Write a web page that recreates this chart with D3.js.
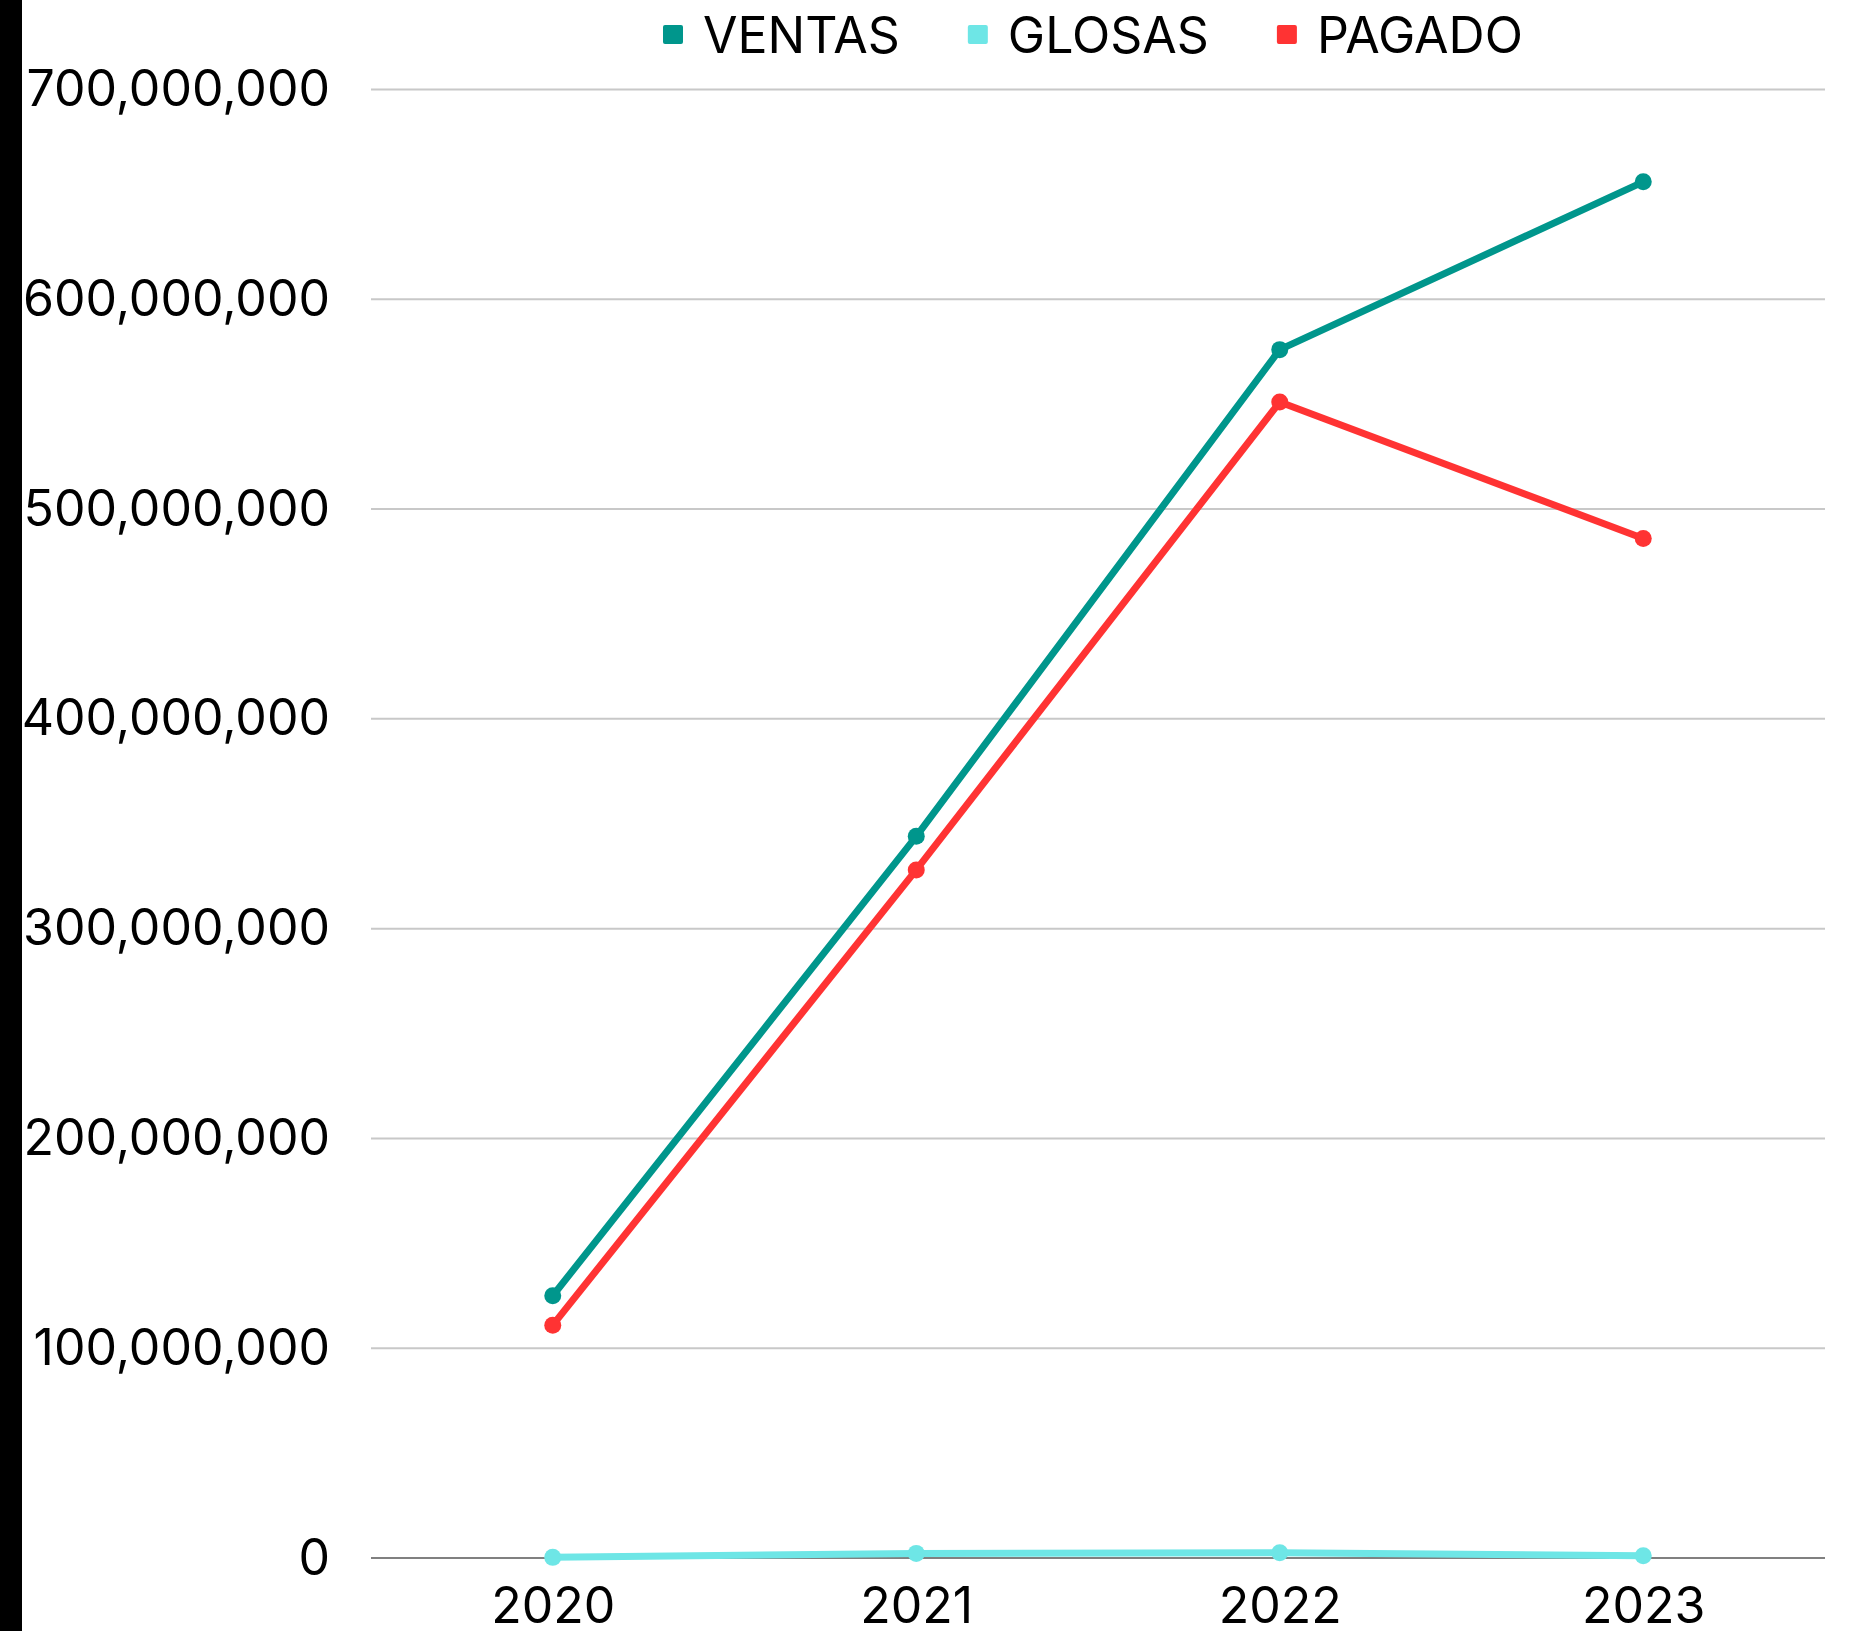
<!DOCTYPE html>
<html lang="en">
<head>
  <meta charset="utf-8">
  <script src="https://d3js.org/d3.v7.min.js"></script>
  <style>
    body { margin: 0; background: white; }
    svg text { font-family: Inter, "Liberation Sans", sans-serif; font-size: 50px; fill: black; }
    .grid line { stroke: #c8c8c8; stroke-width: 2px; }
  </style>
</head>
<body>
  <script>
    // data
    var years = ["2020", "2021", "2022", "2023"];
    var ventas = [125000000, 344000000, 576000000, 656000000];
    var glosas = [300000, 2200000, 2500000, 1100000];
    var pagado = [111000000, 328000000, 551000000, 486000000];
    var yTicks = [0, 100000000, 200000000, 300000000, 400000000, 500000000, 600000000, 700000000];
    var seriesNames = ["VENTAS", "GLOSAS", "PAGADO"];
    var seriesColors = ["#00968c", "#6ee6e6", "#ff3333"];

    var W = 1849, H = 1631;
    var plotLeft = 371, plotRight = 1825, plotTop = 89.5, plotBottom = 1558;

    var svg = d3.select("body").append("svg").attr("width", W).attr("height", H);

    // black strip on the left edge
    svg.append("rect").attr("x", 0).attr("y", 0).attr("width", 22).attr("height", H).attr("fill", "black");

    var x = d3.scalePoint().domain(years).range([plotLeft, plotRight]).padding(0.5);
    var y = d3.scaleLinear().domain([0, 700000000]).range([plotBottom, plotTop]);

    // gridlines
    svg.append("g").attr("class", "grid")
      .selectAll("line").data(yTicks.slice(1)).enter().append("line")
      .attr("x1", plotLeft).attr("x2", plotRight)
      .attr("y1", function(d) { return y(d); })
      .attr("y2", function(d) { return y(d); });

    // zero axis line
    svg.append("line")
      .attr("x1", plotLeft).attr("x2", plotRight)
      .attr("y1", y(0)).attr("y2", y(0))
      .attr("stroke", "#808080").attr("stroke-width", 2);

    var yAxis = svg.append("g")
      .attr("transform", "translate(" + plotLeft + ",0)")
      .call(d3.axisLeft(y).tickValues(yTicks).tickSize(0).tickPadding(41).tickFormat(d3.format(",")));
    yAxis.select(".domain").remove();
    yAxis.selectAll("text").attr("font-size", null).attr("font-family", null).attr("fill", "black");

    var xAxis = svg.append("g")
      .attr("transform", "translate(0," + plotBottom + ")")
      .call(d3.axisBottom(x).tickSize(0).tickPadding(29));
    xAxis.select(".domain").remove();
    xAxis.selectAll("text").attr("font-size", null).attr("font-family", null).attr("fill", "black");

    var series = [ventas, glosas, pagado];
    var line = d3.line()
      .x(function(d, i) { return x(years[i]); })
      .y(function(d) { return y(d); });

    series.forEach(function(vals, s) {
      var g = svg.append("g");
      g.append("path")
        .attr("d", line(vals))
        .attr("fill", "none")
        .attr("stroke", seriesColors[s])
        .attr("stroke-width", 7)
        .attr("stroke-linejoin", "round");
      g.selectAll("circle").data(vals).enter().append("circle")
        .attr("cx", function(d, i) { return x(years[i]); })
        .attr("cy", function(d) { return y(d); })
        .attr("r", 8.5)
        .attr("fill", seriesColors[s]);
    });

    // legend
    var legend = svg.append("g");
    var lx = 663;
    seriesNames.forEach(function(name, i) {
      legend.append("rect")
        .attr("x", lx).attr("y", 25)
        .attr("width", 20).attr("height", 19)
        .attr("rx", 2)
        .attr("fill", seriesColors[i]);
      var t = legend.append("text")
        .attr("x", lx + 40).attr("y", 53)
        .text(name);
      lx = lx + 40 + t.node().getComputedTextLength() + 68;
    });
  </script>
</body>
</html>
